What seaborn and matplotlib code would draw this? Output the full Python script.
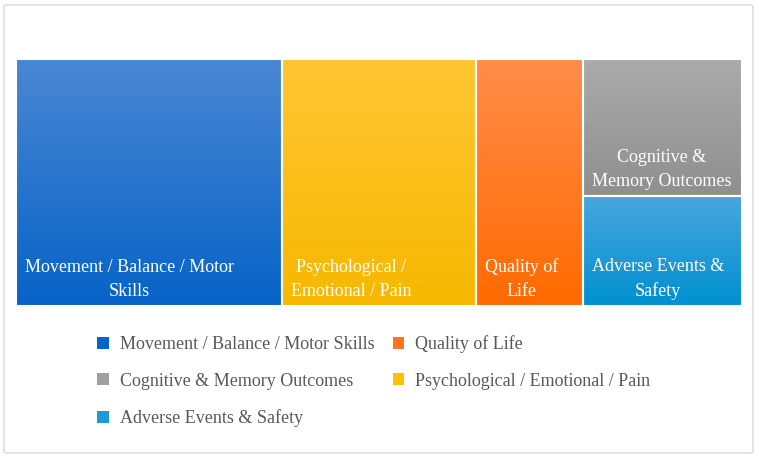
import numpy as np
import seaborn as sns
import matplotlib.pyplot as plt
from matplotlib.patches import Rectangle, Patch, FancyBboxPatch

# treemap data (study counts per outcome domain)
categories = ["Movement / Balance / Motor Skills", "Psychological / Emotional / Pain",
              "Quality of Life", "Cognitive & Memory Outcomes", "Adverse Events & Safety"]
counts = [15, 11, 6, 5, 4]
tile_labels = ["Movement / Balance / Motor\nSkills", "Psychological /\nEmotional / Pain",
               "Quality of\nLife", "Cognitive &\nMemory Outcomes", "Adverse Events &\nSafety"]
# tiles grouped into columns, left to right
columns = [[0], [1], [2], [3, 4]]
legend_order = [0, 3, 4, 2, 1]

top_colors = ["#4a87d3", "#ffc633", "#ff8c4a", "#ababab", "#48a6de"]
bottom_colors = ["#0663c7", "#f6b800", "#ff6a00", "#8f8f8f", "#0090d0"]
legend_colors = ["#0a64c8", "#ffc000", "#ff7420", "#a0a0a0", "#1a9ad8"]

sns.set_style("white")
plt.rcParams['font.family'] = ['Liberation Serif', 'DejaVu Serif']

W, H = 759, 458
fig = plt.figure(figsize=(W / 100, H / 100), dpi=100)
ax = fig.add_axes([0, 0, 1, 1])
ax.set_xlim(0, W)
ax.set_ylim(H, 0)
ax.axis('off')

# outer chart border
fig.patches.append(FancyBboxPatch((4 / W, 5 / H), 749 / W, 448 / H,
                                  boxstyle="round,pad=0,rounding_size=0.004",
                                  transform=fig.transFigure, fill=False,
                                  edgecolor="#d9d9d9", lw=1))

left, right, top, bottom = 16, 742, 59, 306
total = sum(counts)
x = left
grad = np.linspace(0, 1, 256).reshape(-1, 1)
for col in columns:
    col_sum = sum(counts[i] for i in col)
    w = (right - left) * col_sum / total
    y = top
    for i in col:
        h = (bottom - top) * counts[i] / col_sum
        cmap = sns.blend_palette([top_colors[i], bottom_colors[i]], as_cmap=True)
        ax.imshow(grad, cmap=cmap, extent=(x, x + w, y + h, y), origin='upper',
                  aspect='auto', interpolation='bilinear', zorder=1)
        ax.add_patch(Rectangle((x, y), w, h, fill=False, edgecolor='white', lw=1.5, zorder=2))
        ax.text(x + 9, y + h - 6.5, tile_labels[i], color='white', fontsize=13,
                ha='left', va='bottom', multialignment='center', linespacing=1.5, zorder=3)
        y += h
    x += w

ax.set_xlim(0, W)
ax.set_ylim(H, 0)

handles = [Patch(facecolor=legend_colors[i], edgecolor='none') for i in legend_order]
labels = [categories[i] for i in legend_order]
leg = ax.legend(handles, labels, ncol=2, loc='upper left', bbox_to_anchor=(81 / W, 1 - 319 / H),
                frameon=False, fontsize=13, labelcolor='#595959', handlelength=0.65,
                handleheight=0.65, handletextpad=0.6, columnspacing=1.0, labelspacing=1.08)

fig.savefig("out.png", dpi=100)
